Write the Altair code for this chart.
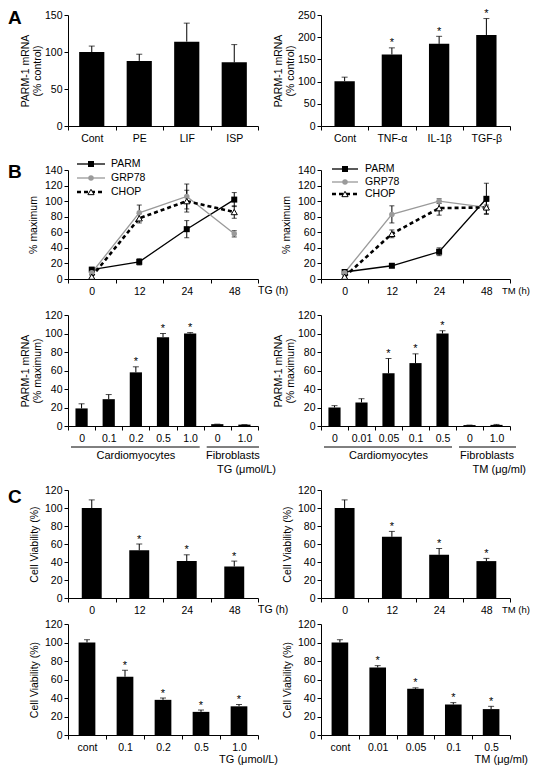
import altair as alt
import pandas as pd

FONT = "Liberation Sans"
GRAY = "#9a9a9a"

# ---------------- data ----------------
# Panel A
a_left_cats = ["Cont", "PE", "LIF", "ISP"]
a_left_vals = [100, 88, 114, 86]
a_left_errs = [8, 9, 25, 24]
a_left_stars = [0, 0, 0, 0]

a_right_cats = ["Cont", "TNF-α", "IL-1β", "TGF-β"]
a_right_vals = [101, 161, 185, 205]
a_right_errs = [9, 15, 17, 37]
a_right_stars = [0, 1, 1, 1]

# Panel B, time courses
b_times = ["0", "12", "24", "48"]
tg_parm = [12, 22, 64, 102]
tg_parm_err = [3, 4, 11, 9]
tg_grp78 = [8, 85, 106, 58]
tg_grp78_err = [2, 10, 16, 4]
tg_chop = [3, 78, 100, 86]
tg_chop_err = [2, 6, 14, 8]

tm_parm = [9, 17, 35, 103]
tm_parm_err = [1, 2, 5, 20]
tm_grp78 = [8, 83, 100, 92]
tm_grp78_err = [1, 11, 3, 3]
tm_chop = [3, 58, 91, 92]
tm_chop_err = [1, 5, 9, 8]

# Panel B, dose responses
tg_dose_keys = ["0", "0.1", "0.2", "0.5", "1.0", "0|F", "1.0|F"]
tg_dose_vals = [19, 29, 58, 96, 100, 2, 1.5]
tg_dose_errs = [5, 5, 6, 4, 1, 0, 0]
tg_dose_stars = [0, 0, 1, 1, 1, 0, 0]

tm_dose_keys = ["0", "0.01", "0.05", "0.1", "0.5", "0|F", "1.0|F"]
tm_dose_vals = [20, 25.5, 57, 68, 100, 1, 1.2]
tm_dose_errs = [2, 4, 16, 10, 3, 0, 0.5]
tm_dose_stars = [0, 0, 1, 1, 1, 0, 0]

# Panel C
c_time_cats = ["0", "12", "24", "48"]
c_tg_time_vals = [100, 53, 41, 35]
c_tg_time_errs = [9, 7, 7, 6]
c_tg_time_stars = [0, 1, 1, 1]
c_tm_time_vals = [100, 68, 48, 41]
c_tm_time_errs = [9, 6, 7, 3]
c_tm_time_stars = [0, 1, 1, 1]

c_tg_dose_cats = ["cont", "0.1", "0.2", "0.5", "1.0"]
c_tg_dose_vals = [100, 63, 38, 25, 31]
c_tg_dose_errs = [3, 7, 2, 2, 2]
c_tg_dose_stars = [0, 1, 1, 1, 1]
c_tm_dose_cats = ["cont", "0.01", "0.05", "0.1", "0.5"]
c_tm_dose_vals = [100, 73, 50, 33, 28]
c_tm_dose_errs = [3, 2, 1, 2, 3]
c_tm_dose_stars = [0, 1, 1, 1, 1]

# ---------------- layout ----------------
WL, WR = 190, 189
ROW_H = {"A": 117, "BL": 144, "BB": 138, "CT": 163, "CB": 128}
ROW_TOP = {"A": 6, "BL": 35, "BB": 27, "CT": 55, "CB": 17}


def y_axis(title, values, tpad):
    return alt.Axis(title=title, values=values, tickSize=4, labelPadding=2,
                    titlePadding=tpad, grid=False)


def x_axis():
    return alt.Axis(title=None, labelAngle=0, tickBand="extent", tickSize=4,
                    labelPadding=3,
                    labelExpr="isValid(datum.value) ? split(datum.value, '|')[0] : ''")


def note(text, x, y, align="left", baseline="middle", size=11, weight="normal"):
    return alt.Chart(pd.DataFrame({"t": [text]})).mark_text(
        align=align, baseline=baseline, fontSize=size, fontWeight=weight,
        color="black", font=FONT).encode(x=alt.value(x), y=alt.value(y), text="t:N")


def hline(x1, x2, y):
    return alt.Chart(pd.DataFrame({"k": [0]})).mark_rule(color="black", strokeWidth=1).encode(
        x=alt.value(x1), x2=alt.value(x2), y=alt.value(y))


def bar_panel(keys, vals, errs, stars, ymax, ystep, title, H, top, frac, tpad):
    df = pd.DataFrame({
        "k": keys, "v": vals,
        "hi": [v + e for v, e in zip(vals, errs)],
        "s": ["*" if s else "" for s in stars],
    })
    yscale = alt.Scale(domain=[0, ymax], range=[H, top], nice=False)
    yax = y_axis(title, list(range(0, ymax + 1, ystep)), tpad)
    x = alt.X("k:N", sort=keys, scale=alt.Scale(paddingInner=0, paddingOuter=0), axis=x_axis())
    base = alt.Chart(df).encode(x=x)
    bars = base.mark_bar(color="black", width=alt.RelativeBandSize(frac)).encode(
        y=alt.Y("v:Q", scale=yscale, axis=yax))
    rule = base.mark_rule(color="black", strokeWidth=1).encode(
        y=alt.Y("v:Q", scale=yscale, axis=yax), y2="hi:Q")
    cap = base.mark_tick(color="black", thickness=1, size=6, orient="horizontal").encode(
        y=alt.Y("hi:Q", scale=yscale, axis=yax))
    star = base.mark_text(color="black", fontSize=11, dy=-1.5, baseline="alphabetic", font=FONT).encode(
        y=alt.Y("hi:Q", scale=yscale, axis=yax), text="s:N")
    return [bars, rule, cap, star]


STYLES = {
    "PARM": dict(line=dict(color="black", strokeWidth=1.3),
                 point=dict(shape="square", filled=True, color="black", size=36)),
    "GRP78": dict(line=dict(color=GRAY, strokeWidth=1.3),
                  point=dict(shape="circle", filled=True, color=GRAY, size=30)),
    "CHOP": dict(line=dict(color="black", strokeWidth=2.6, strokeDash=[4, 3]),
                 point=dict(shape="triangle-up", filled=True, fill="white", stroke="black",
                            strokeWidth=1, size=38)),
}


def line_panel(series, title, H, top, tpad, legend_rows, legend_x):
    yscale = alt.Scale(domain=[0, 140], range=[H, top], nice=False)
    yax = y_axis(title, list(range(0, 141, 20)), tpad)
    x = alt.X("t:N", sort=b_times, bandPosition=0.5,
              scale=alt.Scale(type="band", paddingInner=0, paddingOuter=0), axis=x_axis())
    lines, errs, pts = [], [], []
    for name, vals, es in series:
        d = pd.DataFrame({"t": b_times, "v": vals,
                          "lo": [v - e for v, e in zip(vals, es)],
                          "hi": [v + e for v, e in zip(vals, es)]})
        base = alt.Chart(d).encode(x=x)
        st = STYLES[name]
        lines.append(base.mark_line(**st["line"]).encode(y=alt.Y("v:Q", scale=yscale, axis=yax)))
        errs.append(base.mark_rule(color="black", strokeWidth=1).encode(
            y=alt.Y("lo:Q", scale=yscale, axis=yax), y2="hi:Q"))
        errs.append(base.mark_tick(color="black", thickness=1, size=5, orient="horizontal").encode(
            y=alt.Y("lo:Q", scale=yscale, axis=yax)))
        errs.append(base.mark_tick(color="black", thickness=1, size=5, orient="horizontal").encode(
            y=alt.Y("hi:Q", scale=yscale, axis=yax)))
        pts.append(base.mark_point(opacity=1, **st["point"]).encode(
            y=alt.Y("v:Q", scale=yscale, axis=yax)))
    # legend
    leg = []
    x0, x1, xm, xt = legend_x
    for (name, _, _), ry in zip(series, legend_rows):
        st = STYLES[name]
        one = alt.Chart(pd.DataFrame({"k": [0], "n": [name]}))
        leg.append(one.mark_rule(**st["line"]).encode(x=alt.value(x0), x2=alt.value(x1), y=alt.value(ry)))
        leg.append(one.mark_point(opacity=1, **st["point"]).encode(x=alt.value(xm), y=alt.value(ry)))
        leg.append(one.mark_text(align="left", baseline="middle", fontSize=10.5, font=FONT,
                                 color="black").encode(x=alt.value(xt), y=alt.value(ry), text="n:N"))
    return lines + errs + pts + leg


# ---------------- panels ----------------
H, T = ROW_H["A"], ROW_TOP["A"]
a_left = alt.layer(
    *bar_panel(a_left_cats, a_left_vals, a_left_errs, a_left_stars, 150, 50,
               ["PARM-1 mRNA", "(% control)"], H, T, 0.53, 2),
    note("A", -60, 0, baseline="top", size=19, weight="bold"),
).properties(width=WL, height=H)
a_right = alt.layer(
    *bar_panel(a_right_cats, a_right_vals, a_right_errs, a_right_stars, 250, 50,
               ["PARM-1 mRNA", "(% control)"], H, T, 0.43, 2),
).properties(width=WR, height=H)

H, T = ROW_H["BL"], ROW_TOP["BL"]
b_line_left = alt.layer(
    *line_panel([("PARM", tg_parm, tg_parm_err), ("GRP78", tg_grp78, tg_grp78_err),
                 ("CHOP", tg_chop, tg_chop_err)],
                "% maximum", H, T, 6, [29, 43, 57], (9, 37, 23, 43)),
    note("TG (h)", WL, H + 12, size=10.5),
    note("B", -60, 28, baseline="top", size=19, weight="bold"),
).properties(width=WL, height=H)
b_line_right = alt.layer(
    *line_panel([("PARM", tm_parm, tm_parm_err), ("GRP78", tm_grp78, tm_grp78_err),
                 ("CHOP", tm_chop, tm_chop_err)],
                "% maximum", H, T, 6, [34, 47, 59], (11, 37, 24, 44)),
    note("TM (h)", WR - 8, H + 12, size=9.5),
).properties(width=WR, height=H)

H, T = ROW_H["BB"], ROW_TOP["BB"]
stepL, stepR = WL / 7, WR / 7
b_bar_left = alt.layer(
    *bar_panel(tg_dose_keys, tg_dose_vals, tg_dose_errs, tg_dose_stars, 120, 20,
               ["PARM-1 mRNA", "(% maximum)"], H, T, 0.45, 2),
    hline(3, 5 * stepL - 4, H + 21),
    hline(5 * stepL + 3, 7 * stepL + 1, H + 21),
    note("Cardiomyocytes", 2.5 * stepL, H + 30, align="center"),
    note("Fibroblasts", 6 * stepL + 2, H + 30, align="center"),
    note("TG (μmol/L)", WL + 18, H + 44, align="right"),
).properties(width=WL, height=H)
b_bar_right = alt.layer(
    *bar_panel(tm_dose_keys, tm_dose_vals, tm_dose_errs, tm_dose_stars, 120, 20,
               ["PARM-1 mRNA", "(% maximum)"], H, T, 0.45, 2),
    hline(3, 5 * stepR - 4, H + 21),
    hline(5 * stepR + 3, 7 * stepR + 6, H + 21),
    note("Cardiomyocytes", 2.5 * stepR, H + 30, align="center"),
    note("Fibroblasts", 6 * stepR + 4, H + 30, align="center"),
    note("TM (μg/ml)", WR + 16, H + 44, align="right"),
).properties(width=WR, height=H)

H, T = ROW_H["CT"], ROW_TOP["CT"]
c_top_left = alt.layer(
    *bar_panel(c_time_cats, c_tg_time_vals, c_tg_time_errs, c_tg_time_stars, 120, 20,
               "Cell Viability (%)", H, T, 0.42, 5),
    note("TG (h)", WL, H + 12, size=10.5),
    note("C", -60, 53, baseline="top", size=19, weight="bold"),
).properties(width=WL, height=H)
c_top_right = alt.layer(
    *bar_panel(c_time_cats, c_tm_time_vals, c_tm_time_errs, c_tm_time_stars, 120, 20,
               "Cell Viability (%)", H, T, 0.42, 5),
    note("TM (h)", WR - 8, H + 12, size=9.5),
).properties(width=WR, height=H)

H, T = ROW_H["CB"], ROW_TOP["CB"]
c_bot_left = alt.layer(
    *bar_panel(c_tg_dose_cats, c_tg_dose_vals, c_tg_dose_errs, c_tg_dose_stars, 120, 20,
               "Cell Viability (%)", H, T, 0.44, 5),
    note("TG (μmol/L)", WL + 20, H + 25, align="right"),
).properties(width=WL, height=H)
c_bot_right = alt.layer(
    *bar_panel(c_tm_dose_cats, c_tm_dose_vals, c_tm_dose_errs, c_tm_dose_stars, 120, 20,
               "Cell Viability (%)", H, T, 0.44, 5),
    note("TM (μg/ml)", WR + 18, H + 25, align="right"),
).properties(width=WR, height=H)

chart = alt.concat(
    a_left, a_right,
    b_line_left, b_line_right,
    b_bar_left, b_bar_right,
    c_top_left, c_top_right,
    c_bot_left, c_bot_right,
    columns=2, spacing={"row": 9, "column": 63}, bounds="flush",
).properties(
    padding={"top": 0, "left": 0, "right": 0, "bottom": 0}
).configure(font=FONT).configure_view(strokeWidth=0).configure_axis(
    domainColor="black", tickColor="black", labelColor="black", titleColor="black",
    labelFont=FONT, titleFont=FONT, labelFontSize=10.5, titleFontSize=10.5,
    titleFontWeight="normal", domainWidth=1, tickWidth=1, titleLineHeight=12,
)

chart.save("out.html", embed_options={"renderer": "svg", "actions": False})
